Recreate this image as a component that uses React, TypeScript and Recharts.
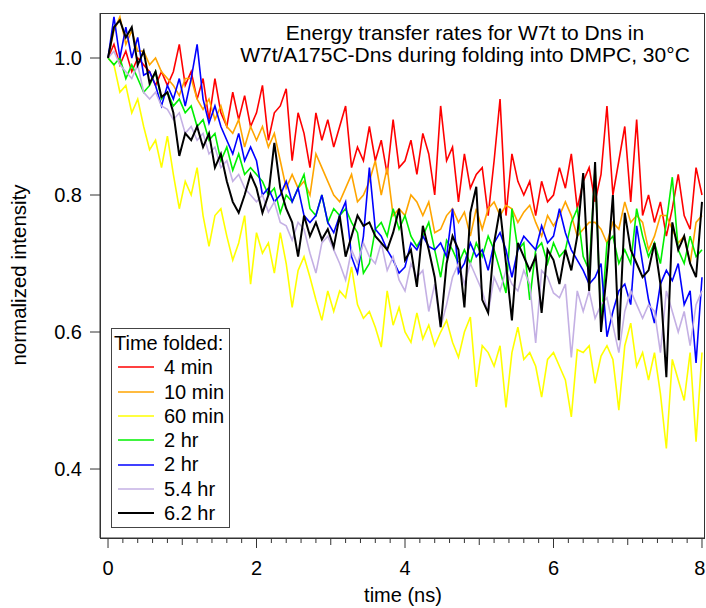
import React from "react";
import { LineChart, Line, XAxis, YAxis, Legend, Label } from "recharts";

const FONT = "Arial, 'Liberation Sans', Helvetica, sans-serif";

// sample times (ns)
const times = [
  0, 0.08, 0.16, 0.24, 0.32, 0.4, 0.48, 0.56, 0.64, 0.72,
  0.8, 0.88, 0.96, 1.04, 1.12, 1.2, 1.28, 1.36, 1.44, 1.52,
  1.6, 1.68, 1.76, 1.84, 1.92, 2, 2.08, 2.16, 2.24, 2.32,
  2.4, 2.48, 2.56, 2.64, 2.72, 2.8, 2.88, 2.96, 3.04, 3.12,
  3.2, 3.28, 3.36, 3.44, 3.52, 3.6, 3.68, 3.76, 3.84, 3.92,
  4, 4.08, 4.16, 4.24, 4.32, 4.4, 4.48, 4.56, 4.64, 4.72,
  4.8, 4.88, 4.96, 5.04, 5.12, 5.2, 5.28, 5.36, 5.44, 5.52,
  5.6, 5.68, 5.76, 5.84, 5.92, 6, 6.08, 6.16, 6.24, 6.32,
  6.4, 6.48, 6.56, 6.64, 6.72, 6.8, 6.88, 6.96, 7.04, 7.12,
  7.2, 7.28, 7.36, 7.44, 7.52, 7.6, 7.68, 7.76, 7.84, 7.92,
  8,
];

const min4 = [
  1.0, 1.02, 0.99, 1.01, 0.98, 1.0, 0.99, 0.98, 0.96, 0.98,
  0.96, 0.98, 1.02, 0.96, 0.98, 0.94, 0.97, 0.91, 0.97, 0.92,
  0.9, 0.95, 0.91, 0.945, 0.9, 0.92, 0.96, 0.88, 0.92, 0.93,
  0.955, 0.85, 0.92, 0.89, 0.84, 0.92, 0.88, 0.91, 0.87, 0.9,
  0.93, 0.84, 0.87, 0.85, 0.9, 0.85, 0.88, 0.83, 0.91, 0.84,
  0.85, 0.88, 0.83, 0.89, 0.86, 0.8, 0.93, 0.85, 0.87, 0.79,
  0.86, 0.81, 0.83, 0.84, 0.77, 0.85, 0.94, 0.77, 0.86, 0.82,
  0.8, 0.82, 0.77, 0.82, 0.79, 0.8, 0.84, 0.81, 0.86, 0.78,
  0.82, 0.84, 0.79, 0.83, 0.93, 0.8, 0.85, 0.9, 0.79, 0.91,
  0.77, 0.8, 0.76, 0.79, 0.74, 0.78, 0.83, 0.77, 0.75, 0.84,
  0.8,
];

const min10 = [
  1.0, 1.04, 1.06, 1.02, 1.04, 1.01, 1.01, 0.99, 1.0, 0.98,
  0.97, 0.96, 0.945, 0.97, 0.97, 0.94, 0.925, 0.94, 0.91, 0.93,
  0.9, 0.89, 0.91, 0.87, 0.9, 0.88, 0.9, 0.87, 0.89, 0.85,
  0.81, 0.83, 0.81, 0.82, 0.8, 0.86, 0.84, 0.82, 0.8, 0.79,
  0.81, 0.83, 0.79, 0.8, 0.82, 0.85, 0.8, 0.84, 0.77, 0.78,
  0.77, 0.8, 0.79, 0.77, 0.79, 0.745, 0.75, 0.77, 0.78, 0.76,
  0.775, 0.74, 0.78, 0.75, 0.78, 0.79, 0.77, 0.785, 0.78, 0.76,
  0.775, 0.785, 0.76, 0.74, 0.77, 0.755, 0.77, 0.79, 0.77, 0.74,
  0.75, 0.76, 0.76, 0.75, 0.73, 0.76, 0.75, 0.79, 0.76, 0.77,
  0.76, 0.72, 0.74, 0.77, 0.77, 0.75, 0.73, 0.74, 0.7, 0.76,
  0.77,
];

const min60 = [
  1.0, 0.99, 0.95, 0.96, 0.92, 0.94, 0.9, 0.866, 0.88, 0.84,
  0.886, 0.83, 0.78, 0.82, 0.8, 0.84, 0.77, 0.725, 0.77, 0.78,
  0.74, 0.705, 0.73, 0.77, 0.67, 0.745, 0.715, 0.73, 0.686, 0.745,
  0.7, 0.636, 0.69, 0.71, 0.68, 0.647, 0.617, 0.66, 0.63, 0.66,
  0.65, 0.695, 0.64, 0.62, 0.63, 0.607, 0.578, 0.66, 0.61, 0.636,
  0.6, 0.585, 0.628, 0.59, 0.61, 0.58, 0.6, 0.617, 0.585, 0.563,
  0.6, 0.622, 0.52, 0.58, 0.57, 0.55, 0.58, 0.49, 0.57, 0.607,
  0.56, 0.57, 0.55, 0.505, 0.56, 0.57, 0.55, 0.53, 0.476, 0.574,
  0.57, 0.58, 0.525, 0.565, 0.58, 0.56, 0.486, 0.58, 0.613, 0.55,
  0.57, 0.53, 0.57, 0.51, 0.43, 0.56, 0.53, 0.5, 0.57, 0.44,
  0.57,
];

const hr2a = [
  1.0, 0.99, 1.0, 0.97, 0.99, 0.97, 0.95, 0.96, 0.98, 0.94,
  0.95, 0.93, 0.94, 0.92, 0.93, 0.9, 0.91, 0.88, 0.89, 0.85,
  0.87, 0.836, 0.86, 0.83, 0.84, 0.83, 0.82, 0.8, 0.81, 0.774,
  0.8, 0.79, 0.81, 0.83, 0.78, 0.77, 0.8, 0.76, 0.78, 0.77,
  0.78, 0.76, 0.745, 0.686, 0.7, 0.75, 0.76, 0.74, 0.78, 0.75,
  0.77, 0.74, 0.725, 0.74, 0.76, 0.72, 0.68, 0.734, 0.72, 0.7,
  0.72, 0.7, 0.73, 0.71, 0.74, 0.72, 0.69, 0.657, 0.78, 0.72,
  0.73, 0.647, 0.72, 0.73, 0.7, 0.73, 0.71, 0.72, 0.76, 0.78,
  0.71, 0.69, 0.84, 0.61, 0.73, 0.74, 0.7, 0.72, 0.7, 0.78,
  0.74, 0.71, 0.73, 0.7, 0.76, 0.826, 0.72, 0.7, 0.74, 0.71,
  0.72,
];

const hr2b = [
  1.0, 1.06, 1.0, 1.045, 1.0, 1.03, 0.975, 0.98, 0.96, 0.93,
  0.96, 0.94, 0.97, 0.93, 0.97, 1.02, 0.94, 0.905, 0.93, 0.9,
  0.88, 0.86, 0.89, 0.85, 0.87, 0.85, 0.8, 0.81, 0.79, 0.8,
  0.82, 0.79, 0.81, 0.77, 0.76, 0.77, 0.8, 0.76, 0.745, 0.77,
  0.79, 0.71, 0.686, 0.74, 0.84, 0.75, 0.74, 0.72, 0.705, 0.686,
  0.695, 0.73, 0.72, 0.74, 0.725, 0.72, 0.73, 0.71, 0.78, 0.686,
  0.7, 0.73, 0.71, 0.72, 0.69, 0.73, 0.745, 0.72, 0.68, 0.72,
  0.74, 0.73, 0.72, 0.755, 0.73, 0.74, 0.78, 0.745, 0.72, 0.705,
  0.69, 0.67, 0.68, 0.7, 0.593, 0.63, 0.66, 0.67, 0.64, 0.755,
  0.7, 0.647, 0.613, 0.67, 0.69, 0.675, 0.7, 0.64, 0.66, 0.555,
  0.68,
];

const hr54 = [
  1.0, 1.01, 0.99, 0.98, 0.97, 0.99, 0.95, 0.94, 0.95, 0.93,
  0.925, 0.91, 0.92, 0.89, 0.9, 0.88, 0.89, 0.86, 0.87, 0.84,
  0.85, 0.82, 0.83, 0.81, 0.8, 0.79, 0.8, 0.775, 0.79, 0.76,
  0.755, 0.734, 0.76, 0.75, 0.715, 0.686, 0.73, 0.74, 0.72, 0.7,
  0.676, 0.72, 0.7, 0.73, 0.71, 0.7, 0.73, 0.69, 0.71, 0.676,
  0.66, 0.7, 0.68, 0.69, 0.63, 0.67, 0.607, 0.64, 0.68, 0.7,
  0.67, 0.7, 0.68, 0.66, 0.628, 0.68, 0.66, 0.69, 0.67, 0.66,
  0.69, 0.67, 0.584, 0.69, 0.68, 0.657, 0.65, 0.67, 0.563, 0.66,
  0.63, 0.66, 0.62, 0.64, 0.65, 0.61, 0.57, 0.63, 0.66, 0.64,
  0.62, 0.64, 0.63, 0.57, 0.66, 0.63, 0.6, 0.63, 0.58, 0.64,
  0.66,
];

const hr62 = [
  1.0, 1.045, 1.055, 1.03, 1.045, 0.99, 1.01, 0.963, 0.98, 0.943,
  0.95, 0.92, 0.857, 0.89, 0.88, 0.9, 0.87, 0.89, 0.84, 0.86,
  0.82, 0.79, 0.774, 0.8, 0.83, 0.81, 0.774, 0.8, 0.876, 0.81,
  0.78, 0.76, 0.71, 0.77, 0.74, 0.76, 0.735, 0.75, 0.724, 0.77,
  0.71, 0.74, 0.77, 0.755, 0.76, 0.74, 0.73, 0.72, 0.745, 0.78,
  0.705, 0.72, 0.666, 0.755, 0.72, 0.68, 0.607, 0.7, 0.74, 0.72,
  0.636, 0.774, 0.812, 0.647, 0.628, 0.73, 0.78, 0.7, 0.617, 0.73,
  0.71, 0.69, 0.71, 0.628, 0.72, 0.705, 0.67, 0.72, 0.69, 0.74,
  0.832, 0.66, 0.848, 0.6, 0.69, 0.8, 0.588, 0.774, 0.72, 0.7,
  0.68, 0.69, 0.73, 0.67, 0.534, 0.76, 0.72, 0.74, 0.7, 0.68,
  0.79,
];

const xTicks = [
  0, 0.2, 0.4, 0.6, 0.8, 1, 1.2, 1.4, 1.6, 1.8,
  2, 2.2, 2.4, 2.6, 2.8, 3, 3.2, 3.4, 3.6, 3.8,
  4, 4.2, 4.4, 4.6, 4.8, 5, 5.2, 5.4, 5.6, 5.8,
  6, 6.2, 6.4, 6.6, 6.8, 7, 7.2, 7.4, 7.6, 7.8,
  8,
];
const xLabelTicks = [0, 2, 4, 6, 8];
const xMidTicks = [1, 3, 5, 7];
const yTicks = [0.4, 0.6, 0.8, 1.0];

const series = [
  { key: "min4", name: "4 min", color: "#ff0000", values: min4 },
  { key: "min10", name: "10 min", color: "#ffa500", values: min10 },
  { key: "min60", name: "60 min", color: "#ffff00", values: min60 },
  { key: "hr2a", name: "2 hr", color: "#00f000", values: hr2a },
  { key: "hr2b", name: "2 hr", color: "#0000ff", values: hr2b },
  { key: "hr54", name: "5.4 hr", color: "#c4b0e4", values: hr54 },
  { key: "hr62", name: "6.2 hr", color: "#000000", values: hr62 },
];

const data = times.map((t, i) => {
  const row: Record<string, number> = { t };
  series.forEach((s) => {
    row[s.key] = s.values[i];
  });
  return row;
});

const near = (list: number[], v: number) => list.some((m) => Math.abs(m - v) < 1e-6);

function XTick(props: any) {
  const { x, y, payload } = props;
  const v = payload.value;
  const major = near(xLabelTicks, v);
  const len = major ? 10 : near(xMidTicks, v) ? 7 : 5;
  // the last label sits right at the page edge, keep it inside
  const last = Math.abs(v - 8) < 1e-6;
  return (
    <g>
      <line x1={x} y1={y} x2={x} y2={y + len} stroke="#333" strokeWidth={1} />
      {major && (
        <text
          x={last ? x + 3.5 : x}
          y={y + 37}
          textAnchor={last ? "end" : "middle"}
          fontSize={20}
          fontFamily={FONT}
          fill="#000"
        >
          {v}
        </text>
      )}
    </g>
  );
}

function LegendBox() {
  return (
    <div
      style={{
        width: 119,
        height: 200,
        boxSizing: "border-box",
        border: "1px solid #444",
        background: "#fff",
        fontFamily: FONT,
        fontSize: 20,
        color: "#000",
        padding: "2px 0 0 2px",
        lineHeight: "24.3px",
        whiteSpace: "nowrap",
      }}
    >
      <div>Time folded:</div>
      {series.map((s) => (
        <div key={s.key} style={{ display: "flex", alignItems: "center", height: 24.3 }}>
          <svg width={50} height={10} style={{ display: "block", flex: "none" }}>
            <line
              x1={4}
              x2={40}
              y1={5}
              y2={5}
              stroke={s.color}
              strokeWidth={s.key === "hr62" ? 2 : 1.5}
            />
          </svg>
          <span>{s.name}</span>
        </div>
      ))}
    </div>
  );
}

export default function App() {
  return (
    <div
      style={{
        position: "absolute",
        left: 0,
        top: 0,
        width: 706,
        height: 608,
        background: "#fff",
        fontFamily: FONT,
      }}
    >
      <LineChart
        width={706}
        height={608}
        data={data}
        margin={{ top: 13, right: 2, bottom: 0, left: 0 }}
      >
        <XAxis
          dataKey="t"
          type="number"
          domain={[-0.108, 8.027]}
          allowDataOverflow
          ticks={xTicks}
          interval={0}
          height={70}
          tickLine={false}
          tickSize={0}
          tickMargin={0}
          tick={<XTick />}
          axisLine={{ stroke: "#333" }}
        >
          <Label
            content={() => (
              <text x={403} y={602} textAnchor="middle" fontSize={20} fontFamily={FONT} fill="#000">
                time (ns)
              </text>
            )}
          />
        </XAxis>
        <YAxis
          type="number"
          domain={[0.2993, 1.0657]}
          allowDataOverflow
          ticks={yTicks}
          interval={0}
          width={100}
          tickSize={10}
          tickMargin={8}
          tickFormatter={(v: number) => v.toFixed(1)}
          tick={{ fontSize: 20, fill: "#000", fontFamily: FONT }}
          tickLine={{ stroke: "#333" }}
          axisLine={{ stroke: "#333" }}
        >
          <Label
            content={() => (
              <text
                transform="translate(26,275) rotate(-90)"
                textAnchor="middle"
                fontSize={20.5}
                fontFamily={FONT}
                fill="#000"
              >
                normalized intensity
              </text>
            )}
          />
        </YAxis>
        {series.map((s) => (
          <Line
            key={s.key}
            type="linear"
            dataKey={s.key}
            name={s.name}
            stroke={s.color}
            strokeWidth={s.key === "hr62" ? 2 : 1.6}
            dot={false}
            activeDot={false}
            isAnimationActive={false}
          />
        ))}
        <Legend
          layout="vertical"
          align="center"
          verticalAlign="middle"
          wrapperStyle={{ left: 111, top: 328, width: 119, height: 200 }}
          content={() => <LegendBox />}
        />
      </LineChart>
      <div
        style={{
          position: "absolute",
          left: 100,
          top: 13,
          width: 605,
          height: 526,
          boxSizing: "border-box",
          border: "1px solid #333",
          pointerEvents: "none",
        }}
      />
      <div
        style={{
          position: "absolute",
          left: 165,
          top: 22,
          width: 600,
          textAlign: "center",
          fontSize: 21,
          lineHeight: "22px",
          color: "#000",
          pointerEvents: "none",
          whiteSpace: "nowrap",
        }}
      >
        <div>Energy transfer rates for W7t to Dns in</div>
        <div>W7t/A175C-Dns during folding into DMPC, 30°C</div>
      </div>
    </div>
  );
}
